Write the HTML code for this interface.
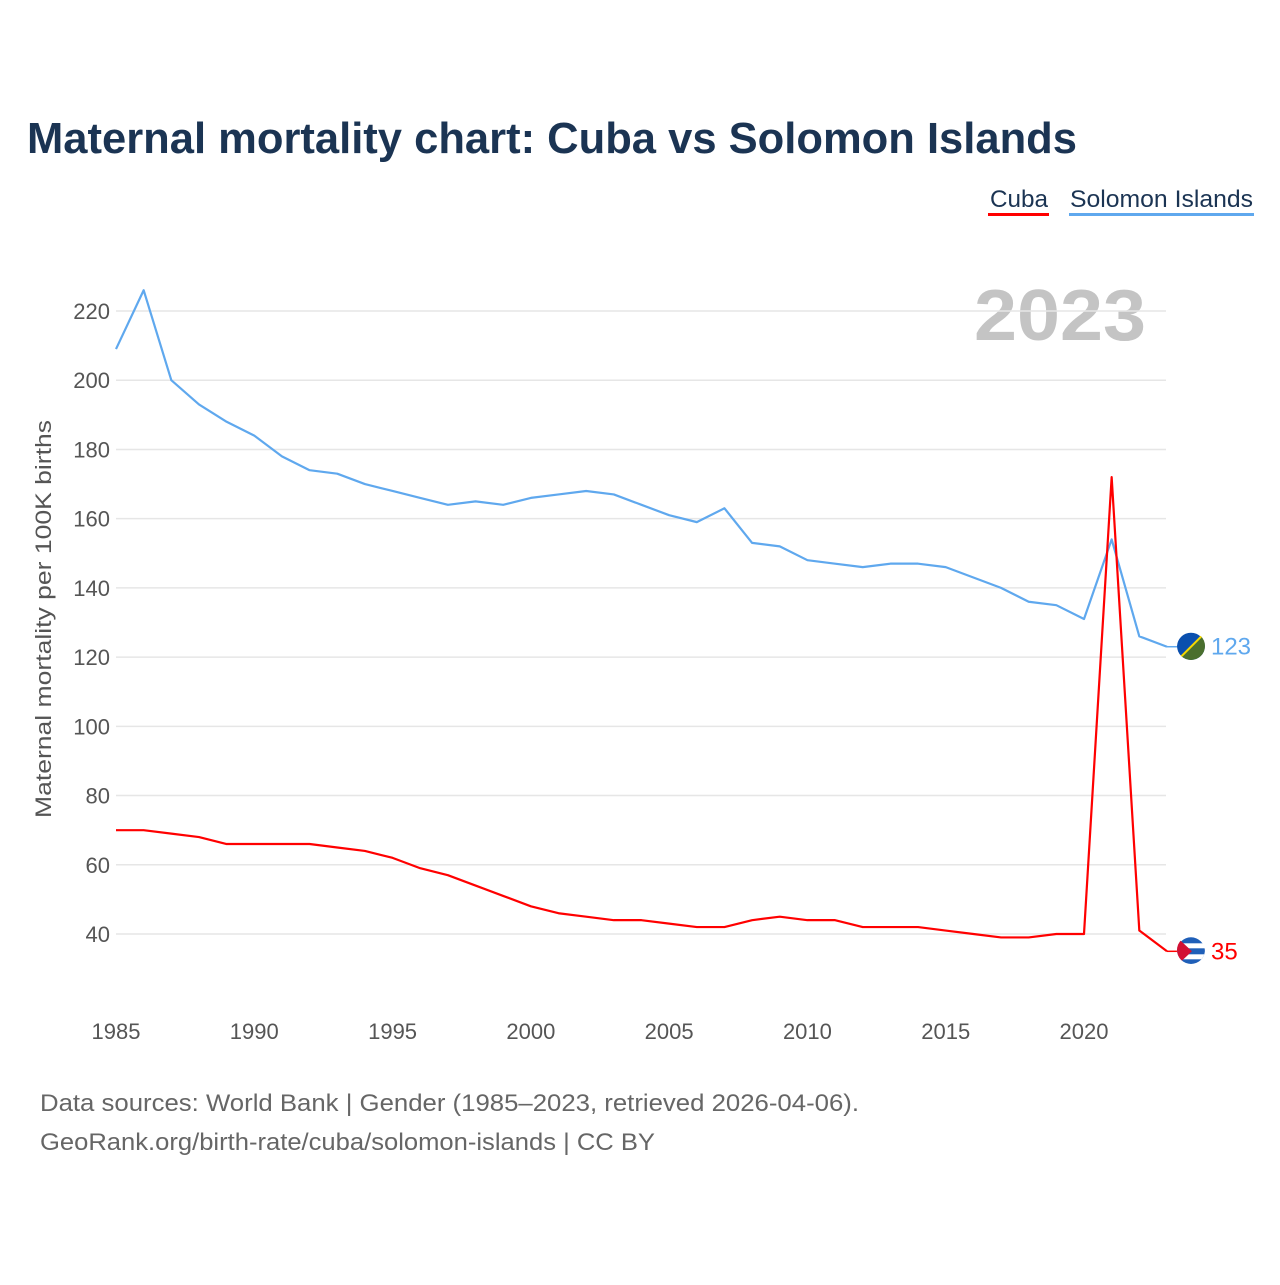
<!DOCTYPE html>
<html><head><meta charset="utf-8"><style>
body{margin:0;background:#fff;font-family:"Liberation Sans",sans-serif;}
svg text{font-family:"Liberation Sans",sans-serif;}
</style></head><body>
<svg id="c" width="1280" height="1280" xmlns="http://www.w3.org/2000/svg">
<defs><clipPath id="cf"><circle cx="1191" cy="950" r="14"/></clipPath><clipPath id="sf"><circle cx="1191" cy="646" r="14"/></clipPath></defs>
<rect width="1280" height="1280" fill="#fff"/>
<text x="27" y="153" font-size="44" font-weight="bold" fill="#1b3453" textLength="1050" lengthAdjust="spacingAndGlyphs">Maternal mortality chart: Cuba vs Solomon Islands</text>
<g>
<text x="990" y="207" font-size="24" fill="#1b3453" textLength="58" lengthAdjust="spacingAndGlyphs">Cuba</text>
<rect x="988" y="213" width="61" height="3" fill="#ff0000"/>
<text x="1070" y="207" font-size="24" fill="#1b3453" textLength="183" lengthAdjust="spacingAndGlyphs">Solomon Islands</text>
<rect x="1069" y="213" width="185" height="3" fill="#5fa8ee"/>
</g>
<text x="1146" y="340" font-size="72" font-weight="bold" fill="#c4c4c4" text-anchor="end" textLength="172" lengthAdjust="spacingAndGlyphs">2023</text>
<text transform="translate(51,619) rotate(-90)" font-size="22" fill="#555" text-anchor="middle" textLength="398" lengthAdjust="spacingAndGlyphs">Maternal mortality per 100K births</text>
<g id="grid"></g><g id="lines"></g>
<text x="40" y="1111" font-size="24" fill="#666" textLength="819" lengthAdjust="spacingAndGlyphs">Data sources: World Bank | Gender (1985–2023, retrieved 2026-04-06).</text>
<text x="40" y="1150" font-size="24" fill="#666" textLength="615" lengthAdjust="spacingAndGlyphs">GeoRank.org/birth-rate/cuba/solomon-islands | CC BY</text>
</svg>
<script>
const years=[1985,1986,1987,1988,1989,1990,1991,1992,1993,1994,1995,1996,1997,1998,1999,2000,2001,2002,2003,2004,2005,2006,2007,2008,2009,2010,2011,2012,2013,2014,2015,2016,2017,2018,2019,2020,2021,2022,2023];
const solomon=[209,226,200,193,188,184,178,174,173,170,168,166,164,165,164,166,167,168,167,164,161,159,163,153,152,148,147,146,147,147,146,143,140,136,135,131,154,126,123];
const cuba=[70,70,69,68,66,66,66,66,65,64,62,59,57,54,51,48,46,45,44,44,43,42,42,44,45,44,44,42,42,42,41,40,39,39,40,40,172,41,35];
const yTicks=[40,60,80,100,120,140,160,180,200,220];
const xTicks=[1985,1990,1995,2000,2005,2010,2015,2020];
const NS="http://www.w3.org/2000/svg";
const X=y=>116+(y-1985)*(1084-116)/35;
const Y=v=>934-(v-40)*(934-311)/180;
const g=document.getElementById('grid'),L=document.getElementById('lines');
function mk(tag,a,p){const e=document.createElementNS(NS,tag);for(const k in a)e.setAttribute(k,a[k]);p.appendChild(e);return e;}
yTicks.forEach(t=>{
 const l=mk('line',{x1:116,x2:1166,y1:Y(t),y2:Y(t),stroke:'#e6e6e6','stroke-width':1.5},g);
 
 
 const tx=mk('text',{x:110,y:Y(t)+8,'font-size':22,fill:'#555','text-anchor':'end'},g);tx.textContent=t;
 
 
});
xTicks.forEach(t=>{
 const tx=mk('text',{x:X(t),y:1039,'font-size':22,fill:'#555','text-anchor':'middle'},g);tx.textContent=t;
 
 
});
function series(vals,col,name){
 const p=mk('polyline',{points:vals.map((v,i)=>X(years[i])+','+Y(v)).join(' '),fill:'none',stroke:col,'stroke-width':2.2,'stroke-linejoin':'round'},L);
 
 
 const last=vals[vals.length-1],lx=X(years[years.length-1]),cx=lx+24,cy=Y(last);
 mk('line',{x1:lx,x2:cx-14,y1:cy,y2:cy,stroke:col,'stroke-width':1.5},L);
 const fg=mk('g',{'clip-path':name==='cuba'?'url(#cf)':'url(#sf)'},L);
 
 
 mk('circle',{cx:cx,cy:cy,r:14,fill:name==='cuba'?'#1f5fb8':'#0a4fae'},fg);
 if(name==='cuba'){mk('rect',{x:cx-14,y:cy-8,width:28,height:5,fill:'#fff'},fg);mk('rect',{x:cx-14,y:cy+3,width:28,height:5,fill:'#fff'},fg);mk('path',{d:`M${cx-14} ${cy-14} L${cx+1} ${cy} L${cx-14} ${cy+14}Z`,fill:'#d21034'},fg);}
 else{mk('path',{d:`M${cx+14} ${cy-14} L${cx-14} ${cy+14} L${cx+14} ${cy+14}Z`,fill:'#4a6f2e'},fg);mk('line',{x1:cx+14,y1:cy-14,x2:cx-14,y2:cy+14,stroke:'#f5d800','stroke-width':2},fg);}
 const t=mk('text',{x:cx+20,y:cy+8,'font-size':24,fill:col},L);t.textContent=last;
 
 
}
series(solomon,'#5fa8ee','solomon-islands');
series(cuba,'#ff0000','cuba');
</script>
</body></html>
